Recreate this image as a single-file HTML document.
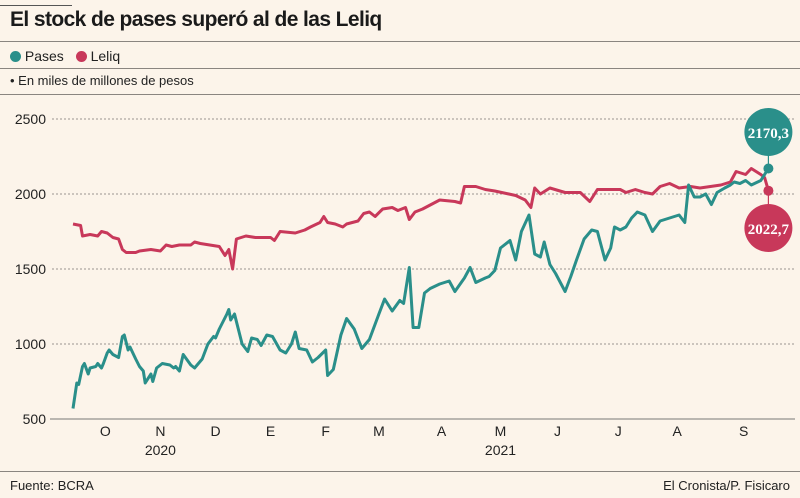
<!DOCTYPE html>
<html><head><meta charset="utf-8"><style>
body{margin:0;background:#fcf4ea;}
#wrap{position:relative;width:800px;height:498px;background:#fcf4ea;font-family:"Liberation Sans",sans-serif;color:#222;overflow:hidden}
.t{position:absolute;white-space:nowrap}
.hl{position:absolute;left:0;width:800px;height:1px;background:#8a8580}
</style></head><body>
<div id="wrap">
<div class="hl" style="top:5px;width:72px;background:#555"></div>
<div class="t" style="left:10px;top:8px;font-size:21px;font-weight:bold;letter-spacing:-0.6px;color:#1a1a1a">El stock de pases superó al de las Leliq</div>
<div class="hl" style="top:41px"></div>
<div class="t" style="left:10px;top:48px;font-size:14px">
<span><span style="display:inline-block;width:11px;height:11px;border-radius:50%;background:#2a8f8a;vertical-align:-1px"></span> Pases</span>
<span style="margin-left:8px"><span style="display:inline-block;width:11px;height:11px;border-radius:50%;background:#c8385a;vertical-align:-1px"></span> Leliq</span></div>
<div class="hl" style="top:68px"></div>
<div class="t" style="left:10px;top:73px;font-size:13px">• En miles de millones de pesos</div>
<div class="hl" style="top:94px"></div>
<svg id="svg" width="800" height="498" style="position:absolute;left:0;top:0"></svg>
<div class="hl" style="top:471px"></div>
<div class="t" style="left:10px;top:478px;font-size:13px">Fuente: BCRA</div>
<div class="t" style="right:10px;top:478px;font-size:13px">El Cronista/P. Fisicaro</div>
</div>
<script>
const yTicks=[500,1000,1500,2000,2500];
const monthLabels=["O","N","D","E","F","M","A","M","J","J","A","S"];
const monthDays=[17,46,75,104,133,161,194,225,255,287,318,353];
const yearLabels=["2020","2021"];
const yearDays=[46,225];
const pasesDays=[0,2,3,5,6,8,9,12,13,15,16,18,19,21,24,26,27,29,30,33,35,37,38,41,42,44,47,51,53,54,56,58,62,64,66,68,71,74,75,77,81,82,83,85,87,89,92,94,97,99,102,105,109,112,115,117,119,123,126,129,133,134,137,141,144,148,152,156,161,164,168,172,174,177,179,182,185,188,193,198,201,206,209,212,217,219,222,225,230,233,236,240,243,246,248,251,254,259,262,265,269,273,276,280,283,285,288,291,294,297,301,305,309,314,319,322,324,327,330,333,336,339,343,346,348,351,354,357,362,366];
const pasesVals=[570,740,730,850,870,800,840,850,870,840,870,940,960,930,910,1050,1060,960,980,900,850,820,740,800,750,840,870,860,840,850,820,930,860,840,870,900,1000,1050,1040,1100,1200,1230,1160,1200,1100,1000,950,1040,1030,990,1060,1050,960,940,1000,1080,970,960,880,910,960,790,830,1060,1170,1100,970,1030,1200,1300,1220,1290,1270,1510,1110,1110,1340,1370,1400,1420,1350,1440,1510,1410,1440,1450,1490,1640,1690,1560,1750,1860,1600,1580,1680,1530,1470,1350,1450,1560,1700,1760,1750,1560,1640,1780,1760,1780,1840,1880,1860,1750,1820,1840,1860,1810,2060,1980,1980,2000,1930,2010,2040,2060,2080,2070,2090,2060,2090,2170];
const leliqDays=[0,4,5,9,13,15,18,21,24,26,28,33,35,41,46,49,52,56,62,64,67,72,77,80,82,84,86,91,96,104,106,109,117,122,125,130,132,134,138,142,144,150,153,156,159,163,168,171,175,177,180,184,193,201,204,206,212,217,222,233,238,241,243,246,251,259,267,272,276,288,291,296,301,305,309,314,319,325,330,341,346,349,354,357,362,364,366];
const leliqVals=[1800,1790,1720,1730,1720,1750,1740,1710,1700,1630,1610,1610,1620,1630,1620,1660,1650,1660,1660,1680,1670,1660,1650,1590,1630,1500,1700,1720,1710,1710,1690,1750,1740,1760,1780,1810,1850,1810,1800,1780,1800,1820,1870,1880,1850,1900,1910,1890,1910,1830,1880,1900,1960,1950,1940,2050,2050,2030,2020,1990,1960,1910,2040,2000,2040,2010,2010,1950,2030,2030,2010,2030,2010,2000,2050,2070,2040,2050,2040,2060,2080,2150,2130,2170,2130,2110,2022];
const lastPases="2170,3", lastLeliq="2022,7";

const NS="http://www.w3.org/2000/svg";
const svg=document.getElementById('svg');
const x=d=>73+d*1.9;
const y=v=>419-(v-500)*0.15;
function mk(tag,attrs,parent){const e=document.createElementNS(NS,tag);for(const k in attrs)e.setAttribute(k,attrs[k]);(parent||svg).appendChild(e);return e;}
yTicks.forEach(v=>{
  if(v>500){const g=mk('line',{x1:52,x2:795,y1:y(v),y2:y(v),stroke:'#9a9590','stroke-width':1,'stroke-dasharray':'2,2'});
  
  }
  const t=mk('text',{x:46,y:y(v)+5,'text-anchor':'end','font-size':14,fill:'#222','font-family':'Liberation Sans'});
  t.textContent=v;
  
  
});
const ax=mk('line',{x1:50,x2:795,y1:419,y2:419,stroke:'#777','stroke-width':1});


monthLabels.forEach((m,i)=>{const t=mk('text',{x:x(monthDays[i]),y:436,'text-anchor':'middle','font-size':14,fill:'#222','font-family':'Liberation Sans'});t.textContent=m;

});
yearLabels.forEach((m,i)=>{const t=mk('text',{x:x(yearDays[i]),y:455,'text-anchor':'middle','font-size':14,fill:'#222','font-family':'Liberation Sans'});t.textContent=m;

});
function path(ds,vs,col,name){const d=ds.map((dd,i)=>(i?'L':'M')+x(dd).toFixed(1)+','+y(vs[i]).toFixed(1)).join('');
const p=mk('path',{d:d,fill:'none',stroke:col,'stroke-width':3,'stroke-linejoin':'round'});

}
path(leliqDays,leliqVals,'#c8385a','leliq-line');
path(pasesDays,pasesVals,'#2a8f8a','pases-line');
const lx=x(pasesDays[pasesDays.length-1]);
const py=y(pasesVals[pasesVals.length-1]), ly=y(leliqVals[leliqVals.length-1]);
mk('line',{x1:lx,x2:lx,y1:132,y2:py,stroke:'#2a8f8a','stroke-width':1.2});
mk('line',{x1:lx,x2:lx,y1:ly,y2:228,stroke:'#c8385a','stroke-width':1.2});
const d1=mk('circle',{cx:lx,cy:py,r:5,fill:'#2a8f8a'});


const d2=mk('circle',{cx:lx,cy:ly,r:5,fill:'#c8385a'});


const c1=mk('circle',{cx:lx,cy:132,r:24,fill:'#2a8f8a'});


const c2=mk('circle',{cx:lx,cy:228,r:24,fill:'#c8385a'});


const t1=mk('text',{x:lx,y:138,'text-anchor':'middle','font-size':15,'font-weight':'bold',fill:'#fff','font-family':'Liberation Serif'});t1.textContent=lastPases;


const t2=mk('text',{x:lx,y:234,'text-anchor':'middle','font-size':15,'font-weight':'bold',fill:'#fff','font-family':'Liberation Serif'});t2.textContent=lastLeliq;


</script>
</body></html>
